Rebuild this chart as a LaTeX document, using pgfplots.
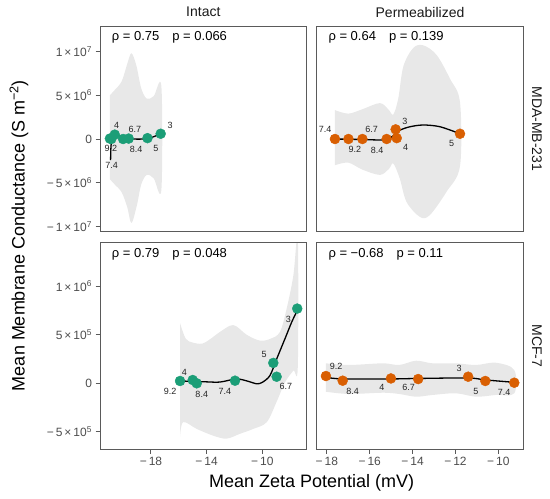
\documentclass[border=0pt]{standalone}
\usepackage{fontspec}
\setmainfont{Liberation Sans}
\usepackage{pgfplots}
\pgfplotsset{compat=1.18}
\definecolor{cgreen}{HTML}{1B9E77}
\definecolor{corange}{HTML}{D95F02}
\definecolor{bandcol}{HTML}{E8E8E8}
\definecolor{bordercol}{HTML}{5A5A5A}
\definecolor{tickcol}{HTML}{4D4D4D}
\tikzset{lbl/.style={font=\fontsize{9bp}{10bp}\selectfont, text=black!85, inner sep=0pt}}
\pgfplotsset{
  panel/.style={
    scale only axis, anchor=south west,
    width=206.7bp, height=205.7bp,
    axis line style={draw=bordercol, line width=1bp},
    tick style={draw=bordercol, line width=0.9bp},
    tick align=outside, major tick length=4.5bp,
    xtick pos=bottom, ytick pos=left,
    tick label style={font=\fontsize{12bp}{14bp}\selectfont, text=tickcol},
    scaled x ticks=false, scaled y ticks=false,
    axis on top, clip=true,
  },
  toprow/.style={ymin=-10.59e6, ymax=12.91e6, xtick=\empty},
  botrow/.style={ymin=-6.77e5, ymax=1.449e6},
  leftcol/.style={xmin=-21.66, xmax=-6.81},
  rightcol/.style={xmin=-18.47, xmax=-8.835},
  bnd/.style={draw=none, fill=bandcol, smooth, tension=0.55, forget plot},
  crv/.style={black, line width=1.3bp, smooth, forget plot},
  pts/.style={only marks, mark=*, mark size=5bp, forget plot},
}
\begin{document}
\begin{tikzpicture}

% ---------------- top-left: MDA-MB-231, Intact
\begin{axis}[panel, toprow, leftcol, at={(100bp,-231.7bp)},
  ytick={-1e7,-5e6,0,5e6,1e7},
  yticklabels={{−\,1\,×\,10\textsuperscript{7}},{−\,5\,×\,10\textsuperscript{6}},0,{5\,×\,10\textsuperscript{6}},{1\,×\,10\textsuperscript{7}}}]
\addplot[bnd] coordinates {(-20.95,5.0e6) (-20.6,5.6e6) (-20.1,6.6e6) (-19.7,8.6e6) (-19.4,9.8e6) (-19.05,8.4e6) (-18.7,5.8e6) (-18.3,4.6e6) (-17.8,4.9e6) (-17.25,6.0e6)
 (-17.25,-5.8e6) (-17.8,-4.5e6) (-18.3,-4.1e6) (-18.7,-5.2e6) (-19.0,-7.5e6) (-19.4,-9.6e6) (-19.7,-7.8e6) (-20.1,-6.1e6) (-20.6,-5.2e6) (-20.95,-4.6e6)} -- cycle;
\addplot[pts, cgreen] coordinates {(-20.95,0.05e6) (-20.85,0.0) (-20.6,0.5e6) (-20.0,0.0) (-19.6,0.05e6) (-18.25,0.1e6) (-17.3,0.6e6)};
\addplot[crv] coordinates {(-20.9,-2.4e6) (-20.87,-0.8e6) (-20.78,0.2e6) (-20.6,0.5e6) (-20.3,0.35e6) (-19.9,0.1e6) (-19.3,0.0) (-18.6,0.0) (-18.0,0.15e6) (-17.3,0.6e6)};
\node[lbl] at (axis cs:-20.46,1.6e6) {4};
\node[lbl] at (axis cs:-19.15,1.14e6) {6.7};
\node[lbl] at (axis cs:-20.87,-1.06e6) {9.2};
\node[lbl] at (axis cs:-19.07,-1.14e6) {8.4};
\node[lbl] at (axis cs:-17.64,-1.06e6) {5};
\node[lbl] at (axis cs:-20.82,-3.05e6) {7.4};
\node[lbl] at (axis cs:-16.63,1.52e6) {3};
\end{axis}

% ---------------- top-right: MDA-MB-231, Permeabilized
\begin{axis}[panel, toprow, rightcol, at={(316.7bp,-231.7bp)}, ytick=\empty]
\addplot[bnd] coordinates {(-17.62,3.3e6) (-17.0,2.9e6) (-16.34,3.4e6) (-15.52,4.1e6) (-15.1,3.3e6) (-14.9,2.8e6) (-14.67,4.6e6) (-14.43,8.3e6) (-13.97,10.4e6) (-13.50,10.7e6) (-12.88,9.6e6) (-12.26,6.9e6) (-11.79,4.2e6)
 (-11.79,-3.1e6) (-12.41,-6.0e6) (-13.2,-8.7e6) (-13.66,-8.9e6) (-14.28,-7.2e6) (-14.6,-4.5e6) (-14.9,-2.8e6) (-15.1,-3.4e6) (-15.52,-4.1e6) (-16.34,-3.5e6) (-17.0,-2.7e6) (-17.62,-3.0e6)} -- cycle;
\addplot[pts, corange] coordinates {(-17.62,0) (-16.99,0) (-16.34,0) (-15.21,0) (-14.79,1.1e6) (-14.74,0.1e6) (-11.79,0.6e6)};
\addplot[crv] coordinates {(-17.62,0.0) (-16.5,-0.05e6) (-15.37,-0.1e6) (-15.0,0.2e6) (-14.59,1.0e6) (-14.12,1.4e6) (-13.50,1.6e6) (-12.72,1.4e6) (-11.79,0.6e6)};
\node[lbl] at (axis cs:-18.08,1.1e6) {7.4};
\node[lbl] at (axis cs:-15.91,1.1e6) {6.7};
\node[lbl] at (axis cs:-16.69,-1.18e6) {9.2};
\node[lbl] at (axis cs:-15.65,-1.26e6) {8.4};
\node[lbl] at (axis cs:-14.36,1.98e6) {3};
\node[lbl] at (axis cs:-14.32,-0.99e6) {4};
\node[lbl] at (axis cs:-12.18,-0.49e6) {5};
\end{axis}

% ---------------- bottom-left: MCF-7, Intact
\begin{axis}[panel, botrow, leftcol, at={(100bp,-449bp)}, height=206.3bp,
  xtick={-18,-14,-10}, xticklabels={−\,18,−\,14,−\,10},
  ytick={-5e5,0,5e5,1e6},
  yticklabels={{−\,5\,×\,10\textsuperscript{5}},0,{5\,×\,10\textsuperscript{5}},{1\,×\,10\textsuperscript{6}}}]
\addplot[bnd] coordinates {(-15.91,0.62e6) (-15.5,0.46e6) (-15.0,0.42e6) (-14.3,0.41e6) (-13.6,0.47e6) (-13.04,0.53e6) (-12.08,0.60e6) (-11.12,0.50e6) (-10.17,0.44e6) (-9.4,0.46e6) (-8.73,0.53e6) (-8.25,0.77e6) (-7.77,1.11e6) (-7.45,1.5e6)
 (-7.45,0.17e6) (-7.77,0.13e6) (-8.37,0.01e6) (-8.97,-0.19e6) (-9.68,-0.40e6) (-10.65,-0.47e6) (-11.60,-0.52e6) (-12.56,-0.57e6) (-13.52,-0.54e6) (-14.71,-0.47e6) (-15.68,-0.40e6) (-15.91,-0.55e6)} -- cycle;
\addplot[pts, cgreen] coordinates {(-15.91,0.024e6) (-15.0,0.034e6) (-14.71,0.0) (-11.96,0.027e6) (-9.21,0.21e6) (-8.97,0.068e6) (-7.49,0.77e6)};
\addplot[crv] coordinates {(-15.91,0.024e6) (-15.0,0.02e6) (-14.0,0.015e6) (-13.04,0.013e6) (-11.84,0.045e6) (-11.0,0.02e6) (-10.4,-0.005e6) (-10.0,0.01e6) (-9.45,0.08e6) (-8.97,0.25e6) (-8.37,0.46e6) (-7.89,0.63e6) (-7.49,0.75e6)};
\node[lbl] at (axis cs:-16.63,-0.087e6) {9.2};
\node[lbl] at (axis cs:-15.60,0.113e6) {4};
\node[lbl] at (axis cs:-14.35,-0.11e6) {8.4};
\node[lbl] at (axis cs:-12.68,-0.079e6) {7.4};
\node[lbl] at (axis cs:-9.86,0.3e6) {5};
\node[lbl] at (axis cs:-8.31,-0.035e6) {6.7};
\node[lbl] at (axis cs:-8.13,0.656e6) {3};
\end{axis}

% ---------------- bottom-right: MCF-7, Permeabilized
\begin{axis}[panel, botrow, rightcol, at={(316.7bp,-449bp)}, height=206.3bp,
  ytick=\empty,
  xtick={-18,-16,-14,-12,-10}, xticklabels={−\,18,−\,16,−\,14,−\,12,−\,10}]
\addplot[bnd] coordinates {(-18.04,0.206e6) (-16.95,0.189e6) (-15.39,0.206e6) (-14.62,0.189e6) (-13.84,0.233e6) (-13.07,0.206e6) (-11.98,0.206e6) (-11.05,0.189e6) (-10.12,0.212e6) (-9.26,0.137e6)
 (-9.26,-0.103e6) (-10.12,-0.12e6) (-11.05,-0.138e6) (-11.98,-0.103e6) (-13.07,-0.12e6) (-13.84,-0.138e6) (-14.62,-0.11e6) (-15.39,-0.097e6) (-16.95,-0.11e6) (-18.04,-0.087e6)} -- cycle;
\addplot[pts, corange] coordinates {(-18.04,0.075e6) (-17.26,0.027e6) (-15.01,0.05e6) (-13.74,0.044e6) (-11.41,0.068e6) (-10.61,0.024e6) (-9.26,0.006e6)};
\addplot[crv] coordinates {(-18.04,0.062e6) (-17.26,0.045e6) (-15.01,0.045e6) (-13.74,0.05e6) (-11.41,0.055e6) (-10.61,0.035e6) (-9.26,0.01e6)};
\node[lbl] at (axis cs:-17.57,0.178e6) {9.2};
\node[lbl] at (axis cs:-16.79,-0.087e6) {8.4};
\node[lbl] at (axis cs:-15.43,-0.045e6) {4};
\node[lbl] at (axis cs:-14.18,-0.045e6) {6.7};
\node[lbl] at (axis cs:-11.83,0.155e6) {3};
\node[lbl] at (axis cs:-11.05,-0.087e6) {5};
\node[lbl] at (axis cs:-9.73,-0.097e6) {7.4};
\end{axis}

% ---------------- annotations
\begin{scope}[every node/.style={font=\fontsize{13bp}{15bp}\selectfont, anchor=west, inner sep=0pt}]
\node at (111.7bp,-37.3bp) {ρ = 0.75\hspace{13bp}p = 0.066};
\node at (328.3bp,-37.3bp) {ρ = 0.64\hspace{13bp}p = 0.139};
\node at (111.7bp,-254bp) {ρ = 0.79\hspace{13bp}p = 0.048};
\node at (328.3bp,-254bp) {ρ = −0.68\hspace{13bp}p = 0.11};
\end{scope}
\begin{scope}[every node/.style={font=\fontsize{14bp}{16bp}\selectfont, text=black!90, inner sep=0pt}]
\node at (203.3bp,-12bp) {Intact};
\node at (420bp,-12bp) {Permeabilized};
\node[rotate=-90] at (537bp,-128.8bp) {MDA-MB-231};
\node[rotate=-90] at (537bp,-345.8bp) {MCF-7};
\end{scope}
\node[font=\fontsize{18bp}{20bp}\selectfont, inner sep=0pt] at (311.7bp,-483bp) {Mean Zeta Potential (mV)};
\node[font=\fontsize{18bp}{20bp}\selectfont, inner sep=0pt, rotate=90] at (19bp,-235.5bp) {Mean Membrane Conductance (S m\textsuperscript{−2})};
\pgfresetboundingbox
\path[use as bounding box] (0,0) rectangle (550bp,-499bp);
\end{tikzpicture}
\end{document}
